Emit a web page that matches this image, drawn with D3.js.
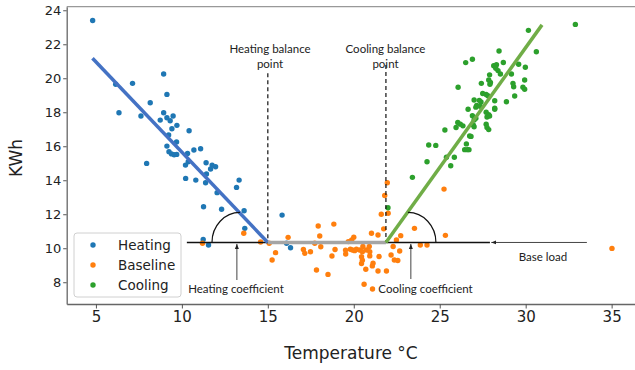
<!DOCTYPE html>
<html><head><meta charset="utf-8">
<script src="https://cdn.jsdelivr.net/npm/d3@7"></script>
<style>body{margin:0;background:#fff}svg{display:block}</style>
</head><body>
<svg id="c" width="635" height="370"></svg>
<script>
const heatingPoints = [[4.81,23.4],[6.15,19.65],[7.13,19.7],[6.34,17.97],[7.62,17.78],[8.16,18.56],[8.94,20.25],[9.13,19.05],[8.94,17.97],[9.13,17.68],[9.49,17.78],[8.74,17.54],[9.32,17.5],[9.71,17.23],[9.42,17.03],[10.42,16.91],[9.23,16.66],[9.69,16.25],[9.13,16.01],[9.25,15.68],[9.4,15.55],[9.55,15.5],[9.7,15.52],[10.33,15.58],[10.7,15.78],[11.09,15.85],[7.95,14.99],[10.21,14.89],[10.37,15.09],[11.41,15.03],[11.76,14.89],[11.96,14.79],[11.67,14.66],[11.43,14.37],[10.22,14.11],[10.81,14.01],[11.38,13.85],[12.05,13.27],[13.33,14.01],[13.18,13.58],[11.26,12.44],[12.31,12.29],[13.62,12.21],[13.66,11.17],[11.24,10.52],[11.55,10.19],[16.09,10.29],[16.32,10.03],[15.83,11.95]];
const baselinePoints = [[11.2,10.29],[13.6,10.88],[14.58,10.37],[15.08,10.29],[16.18,10.64],[15.45,9.74],[15.25,9.31],[17.93,11.31],[18.84,11.42],[18.02,10.72],[17.73,10.29],[17.07,9.93],[17.15,9.7],[17.48,9.79],[18.08,10.09],[18.91,9.93],[18.73,9.54],[19.52,9.89],[19.53,9.66],[17.83,8.72],[18.5,8.46],[19.8,9.94],[19.92,9.9],[20.05,9.86],[20.15,9.94],[20.34,9.9],[20.53,10.1],[20.5,9.8],[20.73,9.9],[20.9,10.1],[20.93,9.8],[20.0,10.65],[19.88,10.49],[19.68,10.39],[21.6,12.0],[22.0,12.06],[21.74,11.14],[21.03,10.88],[21.41,10.78],[22.73,10.74],[22.48,10.49],[22.29,10.1],[22.67,9.84],[20.45,9.5],[20.5,9.3],[20.45,9.1],[20.93,9.55],[21.47,9.51],[21.12,9.12],[22.17,9.6],[22.36,9.31],[22.56,9.28],[20.7,8.76],[21.08,8.96],[21.41,8.66],[21.9,8.66],[20.6,7.88],[21.09,7.6],[21.95,13.85],[21.8,13.1],[25.25,13.48],[23.53,11.17],[25.33,10.76],[23.87,10.19],[24.26,10.19],[35.02,9.99]];
const coolingPoints = [[32.89,23.17],[30.16,22.82],[30.62,21.56],[28.45,21.6],[26.51,20.92],[26.9,21.12],[28.7,20.93],[29.59,20.82],[29.98,20.65],[28.14,20.74],[28.3,20.8],[28.26,20.59],[28.39,20.45],[28.53,20.25],[29.17,20.25],[29.94,19.9],[29.84,19.47],[29.94,19.35],[29.26,19.7],[29.3,19.5],[29.36,18.96],[28.88,18.62],[28.2,18.68],[28.2,18.24],[27.9,20.2],[27.85,19.9],[27.95,19.75],[27.92,19.65],[27.42,19.7],[26.07,19.47],[27.5,19.1],[27.7,19.05],[27.8,18.97],[27.0,18.72],[27.3,18.7],[27.4,18.6],[27.15,18.4],[27.1,18.3],[27.35,18.35],[26.65,18.18],[27.7,18.0],[27.85,17.85],[27.75,17.72],[27.9,17.78],[26.9,17.8],[27.1,17.65],[27.0,17.55],[28.2,18.18],[26.95,17.25],[27.0,17.15],[27.7,17.3],[27.75,17.1],[27.85,16.98],[26.05,17.4],[26.2,17.3],[26.35,17.2],[25.95,17.1],[25.3,16.96],[26.74,16.6],[26.82,16.58],[26.55,16.14],[26.45,15.8],[26.6,15.8],[26.7,15.8],[25.85,15.35],[24.36,16.07],[24.77,16.05],[24.26,15.09],[25.39,15.35],[25.64,14.85],[23.41,14.17],[21.99,12.38]];
const xTicks = [5,10,15,20,25,30,35];
const yTicks = [8,10,12,14,16,18,20,22,24];
const seriesNames = ["Heating","Baseline","Cooling"];
const seriesColors = ["#1f77b4","#ff7f0e","#2ca02c"];
const heatingFit = [[4.8,21.18],[15.0,10.34]];
const baseFit = [[15.0,10.34],[21.87,10.34]];
const coolingFit = [[21.87,10.34],[30.95,23.14]];

const svg = d3.select("#c");
const x = d3.scaleLinear().domain([3.3,36.65]).range([66.7,640]);
const y = d3.scaleLinear().domain([6.72,24.21]).range([304,6.7]);
const font = "DejaVu Sans, sans-serif";
const afont = "Lato, 'Open Sans', sans-serif";

// spines
svg.append("line").attr("x1",66.7).attr("x2",640).attr("y1",6.7).attr("y2",6.7).attr("stroke","#999").attr("stroke-width",1.2);

// axes
const gx = svg.append("g").attr("transform","translate(0,304)")
  .call(d3.axisBottom(x).tickValues(xTicks).tickSize(4.5).tickSizeOuter(0).tickPadding(3));
gx.selectAll("text").attr("font-family",font).attr("font-size",15).attr("fill","#222");
gx.selectAll("line").attr("stroke","#555");
gx.select(".domain").attr("stroke","#666").attr("stroke-width",1.3);
const gy = svg.append("g").attr("transform","translate(66.7,0)")
  .call(d3.axisLeft(y).tickValues(yTicks).tickSize(3.5).tickSizeOuter(0).tickPadding(2));
gy.selectAll("text").attr("font-family",font).attr("font-size",13).attr("fill","#222");
gy.selectAll("line").attr("stroke","#555");
gy.select(".domain").attr("stroke","#666").attr("stroke-width",1.3);

// axis labels
svg.append("text").attr("x",351).attr("y",359).attr("text-anchor","middle")
  .attr("font-family",font).attr("font-size",17).attr("fill","#222").text("Temperature °C");
svg.append("text").attr("transform","translate(22,158) rotate(-90)").attr("text-anchor","middle")
  .attr("font-family",font).attr("font-size",17).attr("fill","#222").text("KWh");

// scatter
[heatingPoints, baselinePoints, coolingPoints].forEach((pts,i)=>{
  svg.append("g").selectAll("circle").data(pts).join("circle")
    .attr("cx",d=>x(d[0])).attr("cy",d=>y(d[1])).attr("r",2.7).attr("fill",seriesColors[i]);
});

// markers
const defs = svg.append("defs");
defs.append("marker").attr("id","ah").attr("viewBox","0 0 10 10").attr("refX",10).attr("refY",5)
  .attr("markerWidth",5).attr("markerHeight",5).attr("orient","auto-start-reverse")
  .append("path").attr("d","M0,1 L10,5 L0,9 Z").attr("fill","#222");

const line = d3.line().x(d=>x(d[0])).y(d=>y(d[1]));

// black base line
svg.append("line").attr("x1",x(10.29)).attr("x2",x(27.92)).attr("y1",y(10.34)).attr("y2",y(10.34))
  .attr("stroke","#111").attr("stroke-width",1.6);
// base load arrow
svg.append("line").attr("x1",x(33.56)).attr("x2",x(28.0)).attr("y1",y(10.34)).attr("y2",y(10.34))
  .attr("stroke","#444").attr("stroke-width",1).attr("marker-end","url(#ah)");

// dashed balance lines
svg.append("line").attr("x1",x(15.0)).attr("x2",x(15.0)).attr("y1",y(20.3)).attr("y2",y(10.34))
  .attr("stroke","#111").attr("stroke-width",1.2).attr("stroke-dasharray","4,3");
svg.append("line").attr("x1",x(21.87)).attr("x2",x(21.87)).attr("y1",y(20.78)).attr("y2",y(10.34))
  .attr("stroke","#111").attr("stroke-width",1.2).attr("stroke-dasharray","4,3");

// fit lines
svg.append("path").attr("d",line(heatingFit)).attr("stroke","#4472c4").attr("stroke-width",3.5).attr("fill","none");
svg.append("path").attr("d",line(baseFit)).attr("stroke","#a5a5a5").attr("stroke-width",3.5).attr("fill","none");
svg.append("path").attr("d",line(coolingFit)).attr("stroke","#70ad47").attr("stroke-width",3.5).attr("fill","none");

// arcs
const hcx = x(13.38), ccx = x(23.15), acy = y(10.34);
svg.append("path").attr("d",`M${hcx-28},${acy} A28,30 0 0 1 ${hcx},${acy-30}`)
  .attr("stroke","#111").attr("stroke-width",1.2).attr("fill","none");
svg.append("path").attr("d",`M${ccx},${acy-30} A28,30 0 0 1 ${ccx+28},${acy}`)
  .attr("stroke","#111").attr("stroke-width",1.2).attr("fill","none");

// coefficient arrows
svg.append("line").attr("x1",x(13.2)).attr("x2",x(13.2)).attr("y1",280).attr("y2",acy+1.5)
  .attr("stroke","#444").attr("stroke-width",1).attr("marker-end","url(#ah)");
svg.append("line").attr("x1",x(23.32)).attr("x2",x(23.32)).attr("y1",279).attr("y2",acy+1.5)
  .attr("stroke","#444").attr("stroke-width",1).attr("marker-end","url(#ah)");

// annotation texts
function ann(t,xx,yy){
  svg.append("text").attr("x",xx).attr("y",yy).attr("text-anchor","middle").attr("dominant-baseline","central")
    .attr("font-family",afont).attr("font-size",11.5).attr("fill","#222").text(t);
}
ann("Heating balance",270,48); ann("point",270,63);
ann("Cooling balance",385.5,48); ann("point",385.5,63);
ann("Heating coefficient",236,288);
ann("Cooling coefficient",425.5,288);
ann("Base load",543,256);

// legend
const lg = svg.append("g");
lg.append("rect").attr("x",74).attr("y",233).attr("width",107).attr("height",64).attr("rx",3)
  .attr("fill","#fff").attr("fill-opacity",0.85).attr("stroke","#d0d0d0");
seriesNames.forEach((n,i)=>{
  lg.append("circle").attr("cx",93).attr("cy",245+i*20).attr("r",2.7).attr("fill",seriesColors[i]);
  lg.append("text").attr("x",118).attr("y",245+i*20).attr("dominant-baseline","central")
    .attr("font-family",font).attr("font-size",13.5).attr("fill","#222").text(n);
});
</script>
</body></html>
